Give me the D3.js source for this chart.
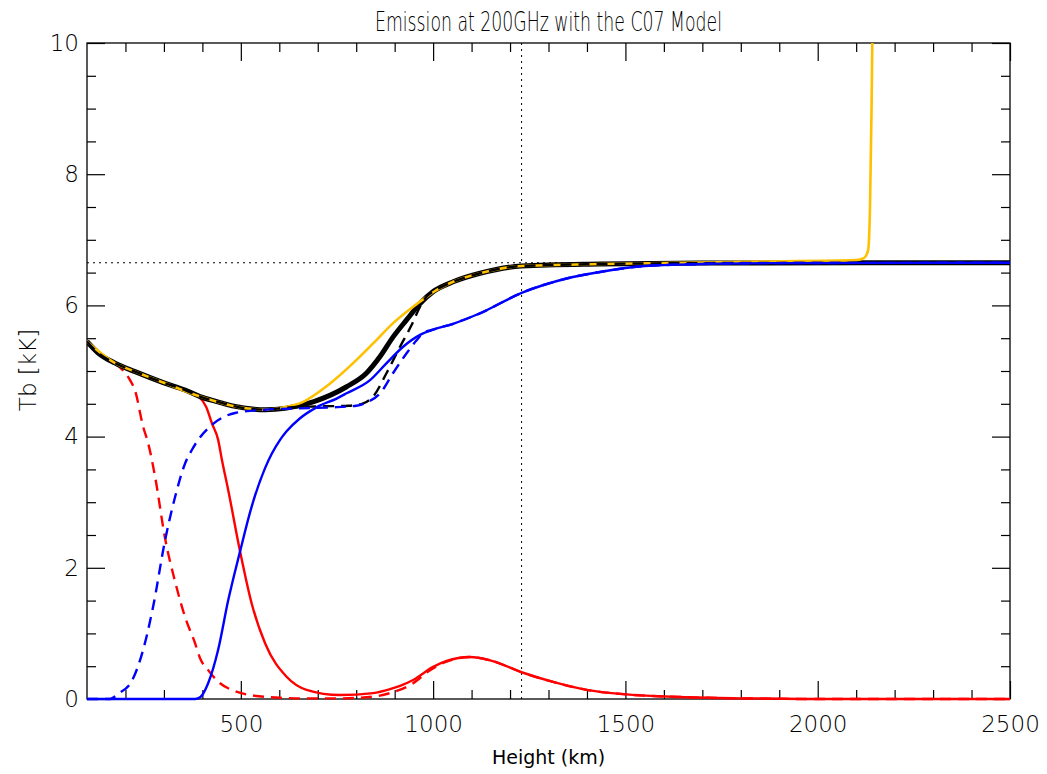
<!DOCTYPE html>
<html>
<head>
<meta charset="utf-8">
<script src="https://cdn.jsdelivr.net/npm/d3@7"></script>
<style>
  body { margin: 0; background: #fff; }
  svg { display: block; }
  .thin { font-family: "DejaVu Sans", sans-serif; font-weight: 200; }
</style>
</head>
<body>
<svg id="chart" width="1047" height="774"></svg>
<script>
// heights in km, Tb in kK
var totalH  = [100, 130, 173, 225, 300, 355, 394, 440, 485, 530, 563, 615, 688, 775, 827, 862, 896, 931, 966, 1000, 1052, 1122, 1230, 1434, 1700, 2500];
var totalTb = [5.45, 5.27, 5.12, 4.99, 4.82, 4.71, 4.61, 4.53, 4.46, 4.42, 4.41, 4.43, 4.53, 4.76, 4.97, 5.22, 5.52, 5.78, 6.03, 6.21, 6.36, 6.49, 6.60, 6.63, 6.645, 6.65];

var goldH  = [100, 173, 225, 300, 394, 485, 563, 615, 654, 732, 792, 844, 896, 948, 983, 1000, 1052, 1122, 1230, 1434, 1876, 2100, 2120, 2131, 2136, 2140, 2142, 2146];
var goldTb = [5.45, 5.12, 4.99, 4.82, 4.61, 4.46, 4.41, 4.45, 4.51, 4.81, 5.12, 5.42, 5.73, 5.98, 6.13, 6.20, 6.36, 6.49, 6.60, 6.63, 6.67, 6.69, 6.72, 6.84, 7.5, 9.0, 10.0, 11.0];

var dashH  = [100, 130, 173, 225, 300, 355, 394, 440, 485, 530, 563, 615, 700, 780, 815, 844, 879, 914, 944, 966, 985, 1000, 1052, 1122, 1230, 1434, 1700, 2500];
var dashTb = [5.45, 5.27, 5.12, 4.99, 4.82, 4.71, 4.61, 4.53, 4.46, 4.42, 4.41, 4.44, 4.46, 4.47, 4.50, 4.61, 4.97, 5.37, 5.70, 5.98, 6.15, 6.21, 6.36, 6.49, 6.60, 6.63, 6.645, 6.65];

var redH  = [100, 130, 173, 225, 300, 355, 389, 410, 425, 441, 451, 467, 498, 528, 563, 619, 671, 758, 844, 888, 914, 948, 1000, 1035, 1096, 1148, 1234, 1312, 1399, 1503, 1642, 1800, 2000, 2500];
var redTb = [5.45, 5.27, 5.12, 4.99, 4.82, 4.71, 4.62, 4.45, 4.20, 3.95, 3.64, 3.19, 2.25, 1.46, 0.85, 0.34, 0.14, 0.06, 0.09, 0.15, 0.20, 0.29, 0.49, 0.58, 0.64, 0.59, 0.40, 0.26, 0.14, 0.07, 0.03, 0.01, 0.0, 0.0];

var redDashH  = [100, 130, 173, 195, 212, 225, 246, 259, 277, 303, 329, 355, 381, 394, 415, 446, 480, 524, 600, 654, 760, 850, 888, 948, 992, 1035, 1096, 1148, 1234, 1312, 1399, 1503, 1642, 1800, 2000, 2500];
var redDashTb = [5.45, 5.27, 5.12, 5.0, 4.86, 4.70, 4.15, 3.90, 3.39, 2.45, 1.79, 1.25, 0.85, 0.62, 0.44, 0.24, 0.13, 0.06, 0.02, 0.01, 0.01, 0.04, 0.09, 0.24, 0.44, 0.57, 0.64, 0.59, 0.40, 0.26, 0.14, 0.07, 0.03, 0.01, 0.0, 0.0];

var blueH  = [100, 381, 395, 415, 441, 467, 498, 528, 563, 602, 619, 654, 698, 749, 775, 836, 879, 922, 966, 1000, 1052, 1122, 1230, 1347, 1434, 1550, 1700, 1900, 2500];
var blueTb = [0, 0, 0.03, 0.24, 0.75, 1.50, 2.25, 2.93, 3.52, 3.95, 4.08, 4.28, 4.45, 4.58, 4.66, 4.86, 5.12, 5.37, 5.55, 5.63, 5.72, 5.88, 6.19, 6.41, 6.51, 6.60, 6.63, 6.645, 6.65];

var blueDashH  = [100, 160, 181, 216, 246, 272, 303, 329, 355, 373, 389, 425, 485, 563, 650, 750, 800, 827, 862, 896, 931, 957, 975, 1000, 1052, 1122, 1230, 1347, 1434, 1550, 1700, 1900, 2500];
var blueDashTb = [0, 0, 0.08, 0.27, 0.75, 1.41, 2.42, 3.08, 3.59, 3.80, 3.95, 4.18, 4.36, 4.41, 4.43, 4.45, 4.47, 4.52, 4.66, 4.97, 5.27, 5.47, 5.58, 5.63, 5.72, 5.88, 6.19, 6.41, 6.51, 6.60, 6.63, 6.645, 6.65];

var refHeight = 1230, refTb = 6.65;
var xMajor = [500, 1000, 1500, 2000, 2500];
var yMajor = [0, 2, 4, 6, 8, 10];

var svg, x, y;
var plotLeft = 87, plotRight = 1010, plotTop = 43, plotBottom = 699;

var zip = function(h, v) {
    return h.map(function(d, i) { return [d, v[i]]; });
};

var drawSeries = function(g, h, v, color, width, dash) {
    var line = d3.line()
	.x(function(d) { return x(d[0]); })
	.y(function(d) { return y(d[1]); })
	.curve(d3.curveMonotoneX);
    g.append("path")
	.datum(zip(h, v))
	.attr("d", line)
	.attr("fill", "none")
	.attr("stroke", color)
	.attr("stroke-width", width)
	.attr("stroke-linejoin", "round")
	.attr("stroke-dasharray", dash || null);
};

var styleAxis = function(g) {
    g.select(".domain").remove();
    g.selectAll(".tick line").attr("stroke", "#000").attr("stroke-width", 1.2);
    g.selectAll("text")
	.attr("class", "thin")
	.attr("fill", "#000")
	.style("font-size", "23px");
};

var setup = function() {
    svg = d3.select("#chart");
    x = d3.scaleLinear().domain([100, 2500]).range([plotLeft, plotRight]);
    y = d3.scaleLinear().domain([0, 10]).range([plotBottom, plotTop]);

    var xMinor = d3.range(200, 2500, 100).filter(function(d) { return d % 500 != 0; });
    var yMinor = d3.range(0.5, 10, 0.5).filter(function(d) { return d % 2 != 0; });

    // frame first, the curves at zero sit on top of it
    svg.append("rect")
	.attr("x", plotLeft).attr("y", plotTop)
	.attr("width", plotRight - plotLeft).attr("height", plotBottom - plotTop)
	.attr("fill", "none").attr("stroke", "#000").attr("stroke-width", 1.3);

    // ticks on all four sides, pointing in
    svg.append("g").attr("transform", "translate(0," + plotBottom + ")")
	.call(d3.axisBottom(x).tickValues(xMajor).tickSize(-18).tickPadding(17).tickFormat(d3.format("d")))
	.call(styleAxis);
    svg.append("g").attr("transform", "translate(0," + plotBottom + ")")
	.call(d3.axisBottom(x).tickValues(xMinor).tickSize(-9).tickFormat(""))
	.call(styleAxis);
    svg.append("g").attr("transform", "translate(0," + plotTop + ")")
	.call(d3.axisTop(x).tickValues(xMajor).tickSize(-18).tickFormat(""))
	.call(styleAxis);
    svg.append("g").attr("transform", "translate(0," + plotTop + ")")
	.call(d3.axisTop(x).tickValues(xMinor).tickSize(-9).tickFormat(""))
	.call(styleAxis);
    svg.append("g").attr("transform", "translate(" + plotLeft + ",0)")
	.call(d3.axisLeft(y).tickValues(yMajor).tickSize(-18).tickPadding(8).tickFormat(d3.format("d")))
	.call(styleAxis);
    svg.append("g").attr("transform", "translate(" + plotLeft + ",0)")
	.call(d3.axisLeft(y).tickValues(yMinor).tickSize(-9).tickFormat(""))
	.call(styleAxis);
    svg.append("g").attr("transform", "translate(" + plotRight + ",0)")
	.call(d3.axisRight(y).tickValues(yMajor).tickSize(-18).tickFormat(""))
	.call(styleAxis);
    svg.append("g").attr("transform", "translate(" + plotRight + ",0)")
	.call(d3.axisRight(y).tickValues(yMinor).tickSize(-9).tickFormat(""))
	.call(styleAxis);

    svg.append("defs").append("clipPath").attr("id", "plotclip")
	.append("rect").attr("x", plotLeft).attr("y", plotTop)
	.attr("width", plotRight - plotLeft).attr("height", plotBottom - plotTop + 3);

    var plot = svg.append("g").attr("clip-path", "url(#plotclip)");

    // reference lines
    plot.append("line")
	.attr("x1", x(100)).attr("x2", x(2500))
	.attr("y1", y(refTb)).attr("y2", y(refTb))
	.attr("stroke", "#000").attr("stroke-width", 1).attr("stroke-dasharray", "2,4");
    plot.append("line")
	.attr("x1", x(refHeight)).attr("x2", x(refHeight))
	.attr("y1", y(0)).attr("y2", y(10))
	.attr("stroke", "#000").attr("stroke-width", 1).attr("stroke-dasharray", "2,4");

    drawSeries(plot, redH, redTb, "#ff0000", 2.4);
    drawSeries(plot, redDashH, redDashTb, "#ff0000", 2.4, "11,7");
    drawSeries(plot, totalH, totalTb, "#000000", 5);
    drawSeries(plot, goldH, goldTb, "#ffc000", 2.6);
    drawSeries(plot, dashH, dashTb, "#000000", 2.4, "11,7");
    drawSeries(plot, blueH, blueTb, "#0000ff", 2.4);
    drawSeries(plot, blueDashH, blueDashTb, "#0000ff", 2.4, "11,7");

    svg.append("text")
	.attr("class", "thin")
	.attr("x", (plotLeft + plotRight) / 2).attr("y", 31)
	.attr("text-anchor", "middle")
	.attr("textLength", 347).attr("lengthAdjust", "spacingAndGlyphs")
	.style("font-size", "27px")
	.text("Emission at 200GHz with the C07 Model");

    svg.append("text")
	.attr("class", "thin")
	.attr("transform", "translate(36,370) rotate(-90)")
	.attr("text-anchor", "middle")
	.style("font-size", "23px")
	.text("Tb [kK]");

    svg.append("text")
	.attr("x", (plotLeft + plotRight) / 2).attr("y", 764)
	.attr("text-anchor", "middle")
	.style("font-family", "'DejaVu Sans', sans-serif")
	.style("font-size", "19px")
	.text("Height (km)");
};

window.onload = setup;
</script>
</body>
</html>
